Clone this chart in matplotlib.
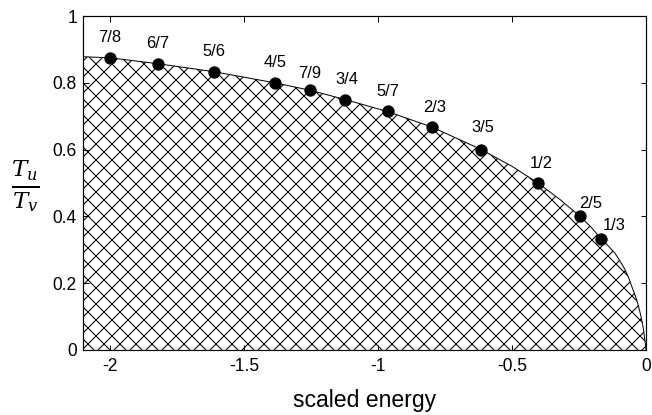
import matplotlib
matplotlib.use("Agg")
import matplotlib.pyplot as plt

# Resonance ratios and their positions on the boundary
ratio_labels = ["7/8", "6/7", "5/6", "4/5", "7/9", "3/4", "5/7", "2/3", "3/5", "1/2", "2/5", "1/3"]
ratio_energy = [-2.00, -1.82, -1.61, -1.385, -1.254, -1.123, -0.964, -0.797, -0.614, -0.403, -0.246, -0.168]
ratio_value = [7/8, 6/7, 5/6, 4/5, 7/9, 3/4, 5/7, 2/3, 3/5, 1/2, 2/5, 1/3]

# Boundary curve of the allowed region
curve_energy = [-2.10, -2.00, -1.82, -1.61, -1.385, -1.254, -1.123, -0.964, -0.797, -0.614,
                -0.50, -0.403, -0.32, -0.246, -0.205, -0.168, -0.140, -0.116, -0.096, -0.078,
                -0.064, -0.053, -0.041, -0.031, -0.023, -0.016, -0.010, -0.006, -0.003, -0.001, 0.0]
curve_ratio = [0.878, 0.875, 0.857, 0.833, 0.800, 0.778, 0.750, 0.714, 0.667, 0.600,
               0.550, 0.500, 0.450, 0.400, 0.368, 0.333, 0.311, 0.290, 0.265, 0.240,
               0.215, 0.190, 0.165, 0.140, 0.115, 0.090, 0.065, 0.040, 0.022, 0.010, 0.0]

# label offsets in pixels relative to each dot
label_dx = [0, 0, 0, 0, 0, 2, 0, 2, 1, 3, 11, 13]
label_dy = [20, 20, 20, 20, 17, 20, 20, 20, 22, 20, 13, 13]

DPI = 96
PT = 72 / DPI  # points per pixel

plt.rcParams["font.family"] = ["Liberation Sans", "DejaVu Sans"]
plt.rcParams["hatch.linewidth"] = 0.8
plt.rcParams["mathtext.fontset"] = "dejavuserif"

fig = plt.figure(figsize=(652 / DPI, 415 / DPI), dpi=DPI)
ax = fig.add_axes([83 / 652, 65 / 415, 563 / 652, 334 / 415])

ax.fill_between(curve_energy, 0, curve_ratio, facecolor="white", edgecolor="black",
                hatch="xx", linewidth=0)
ax.plot(curve_energy, curve_ratio, color="black", linewidth=1.0 * PT * 1.0)
ax.plot(ratio_energy, ratio_value, "o", color="black", markersize=11 * PT)

for lab, xe, yv, dx, dy in zip(ratio_labels, ratio_energy, ratio_value, label_dx, label_dy):
    ax.annotate(lab, (xe, yv), xytext=(dx * PT, dy * PT), textcoords="offset points",
                ha="center", va="center", fontsize=16.5 * PT)

ax.set_xlim(-2.1, 0)
ax.set_ylim(0, 1)
ax.set_xticks([-2, -1.5, -1, -0.5, 0])
ax.set_xticklabels(["-2", "-1.5", "-1", "-0.5", "0"])
ax.set_yticks([0, 0.2, 0.4, 0.6, 0.8, 1])
ax.set_yticklabels(["0", "0.2", "0.4", "0.6", "0.8", "1"])
ax.tick_params(direction="in", top=True, right=True, length=5.5 * PT, width=1.0 * PT,
               labelsize=17.5 * PT)
ax.tick_params(axis="y", pad=6 * PT)
ax.tick_params(axis="x", pad=8 * PT)
for s in ax.spines.values():
    s.set_linewidth(1.2 * PT)

ax.set_xlabel("scaled energy", fontsize=23 * PT, labelpad=14 * PT)
fig.text(25 / 652, 1 - 186 / 415, r"$\frac{T_u}{T_v}$", fontsize=33 * PT,
         ha="center", va="center")

fig.savefig("out.png", dpi=DPI)
